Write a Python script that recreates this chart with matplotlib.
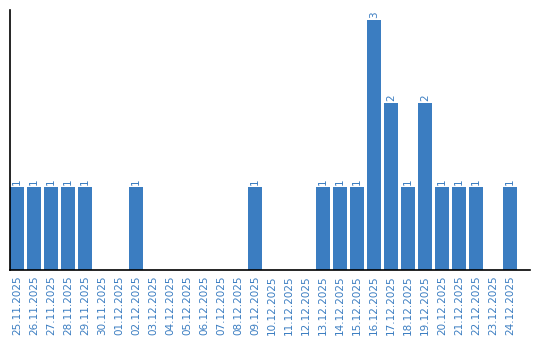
import matplotlib
matplotlib.use("Agg")
import matplotlib.pyplot as plt
import numpy as np

dates = [
    "25.11.2025", "26.11.2025", "27.11.2025", "28.11.2025", "29.11.2025",
    "30.11.2025", "01.12.2025", "02.12.2025", "03.12.2025", "04.12.2025",
    "05.12.2025", "06.12.2025", "07.12.2025", "08.12.2025", "09.12.2025",
    "10.12.2025", "11.12.2025", "12.12.2025", "13.12.2025", "14.12.2025",
    "15.12.2025", "16.12.2025", "17.12.2025", "18.12.2025", "19.12.2025",
    "20.12.2025", "21.12.2025", "22.12.2025", "23.12.2025", "24.12.2025",
]
counts = [1, 1, 1, 1, 1, 0, 0, 1, 0, 0,
          0, 0, 0, 0, 1, 0, 0, 0, 1, 1,
          1, 3, 2, 1, 2, 1, 1, 1, 0, 1]

BLUE = "#3b7dc1"

fig = plt.figure(figsize=(5.4, 3.4), dpi=100)
ax = fig.add_axes([10 / 540, 70 / 340, 520 / 540, 260 / 340])

x = np.arange(len(dates))
width = 14 / 17
ax.bar(x, counts, width=width, color=BLUE)

# value labels above non-empty days
for xi, v in zip(x, counts):
    if v:
        ax.text(xi, v + 0.02, str(v), rotation=90, ha="center", va="bottom",
                color=BLUE, fontsize=7.5)

ax.set_xlim(-width / 2, -width / 2 + 520 / 17)
ax.set_ylim(0, 260 / 83.5)
ax.set_xticks(x)
ax.set_xticklabels(dates, rotation=90, color=BLUE, fontsize=7.5)
ax.tick_params(axis="x", length=0, pad=4)
ax.set_yticks([])
for side in ("top", "right"):
    ax.spines[side].set_visible(False)
ax.spines["left"].set_linewidth(1.2)
ax.spines["bottom"].set_linewidth(1.2)

fig.savefig("out.png", dpi=100)
